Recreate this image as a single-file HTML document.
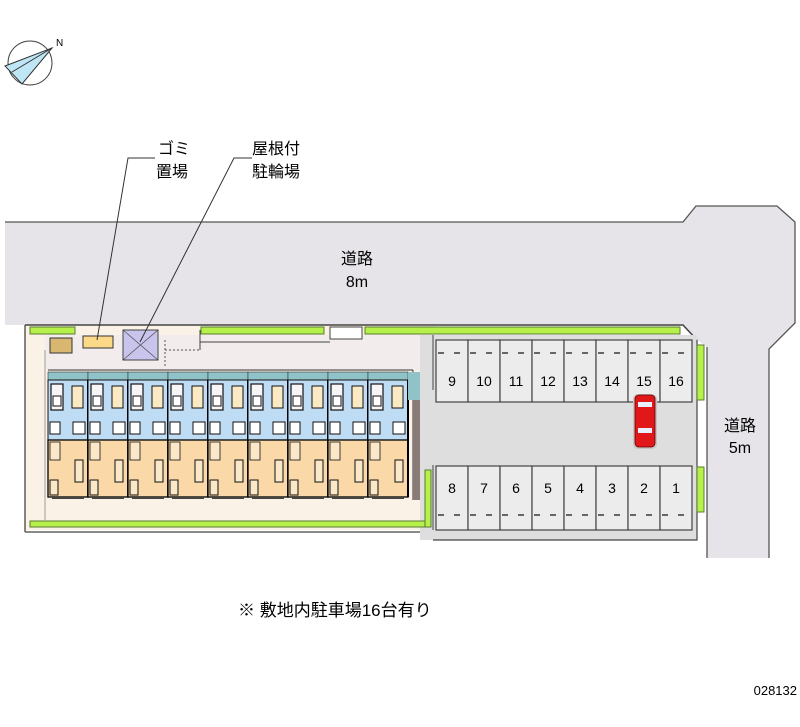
<!DOCTYPE html>
<html><head><meta charset="utf-8"><style>
html,body{margin:0;padding:0;background:#fff;}
svg{display:block;}
text{font-family:"Liberation Sans","Noto Sans CJK JP",sans-serif;fill:#000;}
</style></head><body>
<svg width="800" height="727" viewBox="0 0 800 727" xmlns="http://www.w3.org/2000/svg">
<defs>
<g id="unit">
  <rect x="0" y="0" width="40" height="8" fill="#8fc3c8" stroke="#333" stroke-width="0.6"/>
  <rect x="0" y="8" width="40" height="60" fill="#bfdcf5" stroke="#111" stroke-width="1"/>
  <rect x="3" y="12" width="12" height="26" fill="#f5f5f5" stroke="#111" stroke-width="1.2"/>
  <rect x="5" y="24" width="8" height="10" fill="#fff" stroke="#111" stroke-width="1"/>
  <rect x="24" y="14" width="11" height="22" fill="#fbe9c4" stroke="#111" stroke-width="1"/>
  <rect x="2" y="50" width="10" height="12" fill="#fff" stroke="#111" stroke-width="1"/>
  <rect x="25" y="50" width="12" height="12" fill="#fff" stroke="#111" stroke-width="1"/>
  <rect x="0" y="68" width="40" height="57" fill="#fad8a8" stroke="#111" stroke-width="1.4"/>
  <rect x="2" y="70" width="10" height="18" fill="#fbe8c8" stroke="#111" stroke-width="0.8"/>
  <rect x="27" y="88" width="8" height="22" fill="#fbe8c8" stroke="#111" stroke-width="1"/>
  <rect x="2" y="108" width="8" height="15" fill="#fbe8c8" stroke="#111" stroke-width="1"/>
  <line x1="40" y1="8" x2="40" y2="125" stroke="#000" stroke-width="2"/>
  <rect x="4" y="125" width="32" height="2" fill="#444"/>
</g>
</defs>

<!-- roads -->
<polygon points="5,222 683,222 696,206 777,206 795,222 795,323 769,349 769,558 707,558 707,347 697,340 683,325 5,325" fill="#e6e4e8"/>
<polyline points="5,222 683,222 696,206 777,206 795,222 795,323 769,349 769,558" fill="none" stroke="#555" stroke-width="1.3"/>
<line x1="707" y1="347" x2="707" y2="558" stroke="#555" stroke-width="1.3"/>

<!-- site -->
<rect x="25" y="325" width="410" height="205" fill="#faf2e6"/>
<rect x="45" y="335" width="380" height="35" fill="#f2ecec"/>
<polyline points="25,325 683,325 697,340" fill="none" stroke="#444" stroke-width="1.6"/>
<line x1="25" y1="325" x2="25" y2="532" stroke="#444" stroke-width="1.3"/>
<line x1="25" y1="532" x2="435" y2="532" stroke="#444" stroke-width="1.3"/>
<line x1="45" y1="350" x2="45" y2="520" stroke="#888" stroke-width="0.8"/>
<line x1="48" y1="370" x2="413" y2="370" stroke="#333" stroke-width="1"/>
<line x1="413" y1="370" x2="413" y2="500" stroke="#333" stroke-width="1"/>
<line x1="165" y1="350" x2="200" y2="350" stroke="#555" stroke-dasharray="2,2"/>
<line x1="165" y1="340" x2="165" y2="368" stroke="#555" stroke-dasharray="2,2"/>
<line x1="200" y1="330" x2="200" y2="350" stroke="#444"/>
<line x1="200" y1="342" x2="330" y2="342" stroke="#444"/>

<!-- parking lot -->
<rect x="420" y="335" width="277" height="205" fill="#dedede"/>
<line x1="433" y1="335" x2="433" y2="390" stroke="#444"/>
<line x1="433" y1="465" x2="433" y2="530" stroke="#444"/>
<polyline points="433,540 697,540 697,340" fill="none" stroke="#444" stroke-width="1.2"/>
<g stroke="#444" stroke-width="1.2" fill="#ececec">
<rect x="436" y="340" width="32" height="62"/><rect x="468" y="340" width="32" height="62"/><rect x="500" y="340" width="32" height="62"/><rect x="532" y="340" width="32" height="62"/><rect x="564" y="340" width="32" height="62"/><rect x="596" y="340" width="32" height="62"/><rect x="628" y="340" width="32" height="62"/><rect x="660" y="340" width="32" height="62"/>
<rect x="436" y="466" width="32" height="64"/><rect x="468" y="466" width="32" height="64"/><rect x="500" y="466" width="32" height="64"/><rect x="532" y="466" width="32" height="64"/><rect x="564" y="466" width="32" height="64"/><rect x="596" y="466" width="32" height="64"/><rect x="628" y="466" width="32" height="64"/><rect x="660" y="466" width="32" height="64"/>
</g>
<g stroke="#666" stroke-width="2" stroke-dasharray="6,10">
<line x1="438" y1="353" x2="692" y2="353"/><line x1="438" y1="515" x2="692" y2="515"/>
</g>
<g font-size="14" text-anchor="middle">
<text x="452" y="386">9</text><text x="484" y="386">10</text><text x="516" y="386">11</text><text x="548" y="386">12</text><text x="580" y="386">13</text><text x="612" y="386">14</text><text x="644" y="386">15</text><text x="676" y="386">16</text>
<text x="452" y="493">8</text><text x="484" y="493">7</text><text x="516" y="493">6</text><text x="548" y="493">5</text><text x="580" y="493">4</text><text x="612" y="493">3</text><text x="644" y="493">2</text><text x="676" y="493">1</text>
</g>
<!-- car -->
<rect x="633" y="394" width="24" height="55" rx="5" fill="#c9c4c4"/>
<rect x="635" y="395" width="20" height="52" rx="4" fill="#e0181a" stroke="#600" stroke-width="0.8"/>
<rect x="638" y="402" width="14" height="5" fill="#e8f0ff"/>
<rect x="638" y="428" width="14" height="5" fill="#e8f0ff"/>

<!-- hedges -->
<g fill="#b6f04a" stroke="#5a7a30" stroke-width="1">
<rect x="30" y="327" width="45" height="7"/>
<rect x="201" y="327" width="123" height="7"/>
<rect x="365" y="327" width="315" height="7"/>
<rect x="30" y="521" width="397" height="6"/>
<rect x="425" y="470" width="6" height="57"/>
<rect x="697" y="345" width="7" height="55"/>
<rect x="697" y="467" width="7" height="45"/>
</g>
<rect x="330" y="327" width="32" height="12" fill="#fff" stroke="#444"/>
<!-- garbage & bike -->
<rect x="50" y="338" width="22" height="15" fill="#d8b870" stroke="#333"/>
<rect x="83" y="336" width="30" height="12" fill="#fcd989" stroke="#333"/>
<rect x="123" y="330" width="35" height="30" fill="#c8c4ec" stroke="#444"/>
<line x1="123" y1="330" x2="158" y2="360" stroke="#444" stroke-width="0.6"/>
<line x1="158" y1="330" x2="123" y2="360" stroke="#444" stroke-width="0.6"/>

<!-- building -->
<use href="#unit" x="48" y="372"/><use href="#unit" x="88" y="372"/><use href="#unit" x="128" y="372"/>
<use href="#unit" x="168" y="372"/><use href="#unit" x="208" y="372"/><use href="#unit" x="248" y="372"/>
<use href="#unit" x="288" y="372"/><use href="#unit" x="328" y="372"/><use href="#unit" x="368" y="372"/>
<rect x="408" y="372" width="12" height="28" fill="#8fc3c8"/>
<rect x="413" y="400" width="7" height="100" fill="#8a7a78"/>

<!-- leaders -->
<polyline points="97,340 128,158 155,158" fill="none" stroke="#333" stroke-width="1"/>
<polyline points="140,342 234,158 252,158" fill="none" stroke="#333" stroke-width="1"/>
<g font-size="16">
<text x="158" y="154">ゴミ</text><text x="156" y="177">置場</text>
<text x="252" y="154">屋根付</text><text x="252" y="177">駐輪場</text>
</g>
<g font-size="16" text-anchor="middle">
<text x="357" y="264">道路</text><text x="357" y="287">8m</text>
<text x="740" y="431">道路</text><text x="740" y="453">5m</text>
</g>
<text x="238" y="616" font-size="17">※ 敷地内駐車場16台有り</text>
<text x="797" y="695" font-size="13" text-anchor="end">028132</text>

<!-- compass -->
<circle cx="30" cy="63" r="22" fill="none" stroke="#444" stroke-width="1"/>
<polygon points="5,66 52,48 22,84" fill="#bfe6f5" stroke="#333" stroke-width="1"/>
<line x1="12" y1="72" x2="52" y2="48" stroke="#333"/>
<text x="56" y="46" font-size="10">N</text>
</svg>
</body></html>
